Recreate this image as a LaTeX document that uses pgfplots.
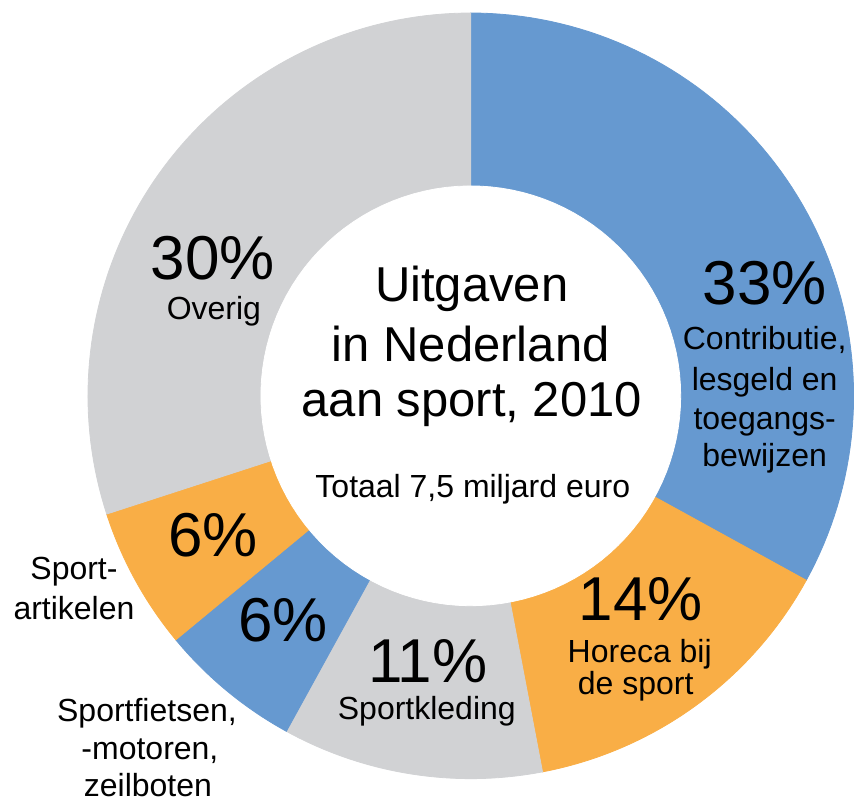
\documentclass[border=0pt]{standalone}
\usepackage{pgfplots}
\usepackage{pgfplotstable}
\pgfplotsset{compat=1.18}
\usepackage{fontspec}
\setmainfont{Liberation Sans}

\definecolor{cblue}{RGB}{102,153,208}
\definecolor{corange}{RGB}{249,174,70}
\definecolor{cgray}{RGB}{209,210,212}
\definecolor{ctext}{RGB}{26,26,26}

% share of each spending category, clockwise from the top
\pgfplotstableread{
pct col
33 cblue
14 corange
11 cgray
6 cblue
6 corange
30 cgray
}\slices

\newcommand{\pctlab}[1]{\fontsize{31}{31}\selectfont #1}
\newcommand{\lab}[1]{\fontsize{16}{19}\selectfont #1}
\newcommand{\ttl}[1]{\fontsize{24.5}{28}\selectfont #1}

\begin{document}
\begin{tikzpicture}
\begin{axis}[
  width=427pt, height=401.5pt, scale only axis,
  xmin=0, xmax=854, ymin=0, ymax=803,
  hide axis, clip=false,
  every node/.style={text=ctext},
]
% keep the whole canvas in the bounding box
\path (axis cs:0,0) rectangle (axis cs:854,803);
\gdef\angstart{90}
\pgfplotsinvokeforeach{0,...,5}{
  \pgfplotstablegetelem{#1}{pct}\of\slices \let\slicepct=\pgfplotsretval
  \pgfplotstablegetelem{#1}{col}\of\slices \let\slicecol=\pgfplotsretval
  \pgfmathsetmacro\angend{\angstart-3.6*\slicepct}
  \edef\cmd{\noexpand\addplot[fill=\slicecol, draw=\slicecol, line width=0.4pt,
    domain=\angend:\angstart, samples=80]
    ({471+383*cos(x)},{407+383*sin(x)}) -- (axis cs:471,407) -- cycle;}
  \cmd
  \xdef\angstart{\angend}
}
% hole of the ring
\addplot[fill=white, draw=white, domain=0:360, samples=120]
  ({471+210*cos(x)},{407+210*sin(x)}) -- cycle;

% centre text
\node[anchor=base] at (axis cs:472,501) {\ttl{Uitgaven}};
\node[anchor=base] at (axis cs:471,441) {\ttl{in Nederland}};
\node[anchor=base] at (axis cs:472,386) {\ttl{aan sport, 2010}};
\node[anchor=base] at (axis cs:473,305) {\lab{Totaal 7,5 miljard euro}};

% slice labels
\node[anchor=base] at (axis cs:765,498) {\pctlab{33\%}};
\node[anchor=base] at (axis cs:765,453) {\lab{Contributie,}};
\node[anchor=base] at (axis cs:765,412) {\lab{lesgeld en}};
\node[anchor=base] at (axis cs:765,373) {\lab{toegangs-}};
\node[anchor=base] at (axis cs:765,336) {\lab{bewijzen}};

\node[anchor=base] at (axis cs:641,182) {\pctlab{14\%}};
\node[anchor=base] at (axis cs:640,140) {\lab{Horeca bij}};
\node[anchor=base] at (axis cs:636,108) {\lab{de sport}};

\node[anchor=base] at (axis cs:428,120) {\pctlab{11\%}};
\node[anchor=base] at (axis cs:427,83) {\lab{Sportkleding}};

\node[anchor=base] at (axis cs:283,161) {\pctlab{6\%}};
\node[anchor=base] at (axis cs:213,246) {\pctlab{6\%}};

\node[anchor=base] at (axis cs:213,523) {\pctlab{30\%}};
\node[anchor=base] at (axis cs:214,483) {\lab{Overig}};

% outside labels
\node[anchor=base] at (axis cs:74,223) {\lab{Sport-}};
\node[anchor=base] at (axis cs:74,183) {\lab{artikelen}};
\node[anchor=base] at (axis cs:147,81) {\lab{Sportfietsen,}};
\node[anchor=base] at (axis cs:150,43) {\lab{-motoren,}};
\node[anchor=base] at (axis cs:148,6) {\lab{zeilboten}};
\end{axis}
\end{tikzpicture}
\end{document}
